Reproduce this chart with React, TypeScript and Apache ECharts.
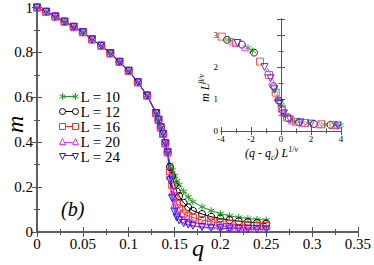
import React, { useEffect, useRef } from "react";
import * as echarts from "echarts";

// ---- data ----
const labels = ["L = 10", "L = 12", "L = 16", "L = 20", "L = 24"];
const colors = ["#1f9e1f", "#000000", "#ff2a2a", "#ff33ff", "#2020ff"];

// common part of main curve (q, m)
const commonQ = [0, 0.01, 0.02, 0.03, 0.04, 0.05, 0.06, 0.07, 0.08, 0.09, 0.1, 0.11, 0.12, 0.13, 0.1325, 0.135, 0.1375, 0.14, 0.1425];
const commonM = [1.0, 0.981, 0.96, 0.937, 0.914, 0.89, 0.858, 0.83, 0.796, 0.758, 0.718, 0.667, 0.608, 0.53, 0.5, 0.466, 0.437, 0.395, 0.355];

// diverging part
const tailQ = [0.145, 0.1475, 0.15, 0.1525, 0.155, 0.16, 0.165, 0.17, 0.18, 0.19, 0.2, 0.21, 0.22, 0.23, 0.24, 0.25];
const tailL10 = [0.3, 0.275, 0.25, 0.228, 0.21, 0.18, 0.155, 0.135, 0.112, 0.095, 0.082, 0.072, 0.065, 0.06, 0.056, 0.053];
const tailL12 = [0.29, 0.25, 0.21, 0.18, 0.16, 0.13, 0.11, 0.095, 0.08, 0.068, 0.06, 0.053, 0.048, 0.044, 0.041, 0.038];
const tailL16 = [0.27, 0.21, 0.16, 0.125, 0.105, 0.082, 0.072, 0.064, 0.053, 0.046, 0.04, 0.036, 0.033, 0.03, 0.028, 0.027];
const tailL20 = [0.25, 0.18, 0.125, 0.09, 0.072, 0.056, 0.047, 0.041, 0.034, 0.029, 0.026, 0.023, 0.021, 0.02, 0.019, 0.018];
const tailL24 = [0.23, 0.15, 0.09, 0.065, 0.052, 0.04, 0.033, 0.028, 0.022, 0.019, 0.017, 0.015, 0.014, 0.013, 0.012, 0.012];
const tails = [tailL10, tailL12, tailL16, tailL20, tailL24];

// inset (scaled x, scaled y)
const insetL10 = [[-3.5, 2.85], [-2.2, 2.6], [-1.9, 2.5], [-0.4, 1.25], [-0.2, 1.0], [0.0, 0.82], [0.3, 0.5], [0.9, 0.3], [1.8, 0.24], [2.9, 0.2], [3.6, 0.19], [3.95, 0.18]];
const insetL12 = [[-3.6, 2.85], [-2.6, 2.7], [-1.8, 2.45], [-0.5, 1.4], [-0.15, 0.95], [0.1, 0.65], [0.5, 0.4], [1.2, 0.27], [2.2, 0.22], [3.3, 0.19]];
const insetL16 = [[-3.95, 2.95], [-3.0, 2.75], [-1.4, 2.17], [-0.8, 1.75], [-0.35, 1.2], [0.05, 0.7], [0.4, 0.42], [1.0, 0.29], [1.6, 0.25], [2.7, 0.21], [3.5, 0.19]];
const insetL20 = [[-3.2, 2.8], [-2.4, 2.62], [-0.9, 1.85], [-0.6, 1.55], [-0.25, 1.05], [0.15, 0.58], [0.7, 0.33], [1.4, 0.26], [2.5, 0.21], [3.7, 0.18]];
const insetL24 = [[-2.9, 2.75], [-1.1, 2.0], [-0.7, 1.65], [-0.45, 1.3], [-0.1, 0.85], [0.2, 0.55], [0.6, 0.36], [1.3, 0.27], [2.0, 0.23], [3.8, 0.17]];
const insets = [insetL10, insetL12, insetL16, insetL20, insetL24];

const starPath = "path://M5,0L5,10M0.67,2.5L9.33,7.5M0.67,7.5L9.33,2.5";
const symbols = [starPath, "circle", "rect", "triangle", "path://M0,0L10,0L5,8.66Z"];
const legendIcons = [
  "path://M3.5,0V7M0.5,1.75L6.5,5.25M0.5,5.25L6.5,1.75M3.5,3.5H16.5M16.5,0V7M13.5,1.75L19.5,5.25M13.5,5.25L19.5,1.75",
  "path://M0.5,3.5a3,3 0 1,0 6,0a3,3 0 1,0 -6,0M6.5,3.5H13.5M13.5,3.5a3,3 0 1,0 6,0a3,3 0 1,0 -6,0",
  "path://M0.5,0.5h6v6h-6zM6.5,3.5H13.5M13.5,0.5h6v6h-6z",
  "path://M0.5,6.5L3.5,0.5L6.5,6.5ZM5,4.5H15M13.5,6.5L16.5,0.5L19.5,6.5Z",
  "path://M0.5,0.5L6.5,0.5L3.5,6.5ZM5,2.5H15M13.5,0.5L19.5,0.5L16.5,6.5Z",
];

const SERIF = "Liberation Serif";
const frame = "#555";

export default function App() {
  const ref = useRef<HTMLDivElement>(null);
  useEffect(() => {
    document.body.style.margin = "0";
    if (!ref.current) return;
    const chart = echarts.init(ref.current, undefined, { renderer: "svg" });

    const mainSeries = labels.map((name, i) => ({
      name,
      type: "line",
      xAxisIndex: 0,
      yAxisIndex: 0,
      data: commonQ.map((q, k) => [q, commonM[k]]).concat(tailQ.map((q, k) => [q, tails[i][k]])),
      symbol: symbols[i],
      symbolSize: 7,
      showAllSymbol: true,
      lineStyle: { color: colors[i], width: 1 },
      itemStyle: { color: i === 0 ? colors[i] : "rgba(0,0,0,0)", borderColor: colors[i], borderWidth: 1 },
      emphasis: { disabled: true },
    }));

    const insetSeries = labels.map((name, i) => ({
      name: name + " inset",
      type: "scatter",
      xAxisIndex: 2,
      yAxisIndex: 2,
      data: insets[i],
      symbol: symbols[i],
      symbolSize: 7,
      itemStyle: { color: i === 0 ? colors[i] : "rgba(0,0,0,0)", borderColor: colors[i], borderWidth: 1 },
      emphasis: { disabled: true },
    }));

    const axisBase = {
      axisLine: { show: true, lineStyle: { color: frame, width: 1.5 } },
      splitLine: { show: false },
    };
    const insetLine = { show: true, lineStyle: { color: frame, width: 1 } };
    const mainTick = { inside: true, length: 5, lineStyle: { color: frame } };
    const mainMinor = { show: true, splitNumber: 2, length: 3, lineStyle: { color: frame } };
    const inTick = { inside: true, length: 4, lineStyle: { color: frame } };
    const inMinor = { show: true, splitNumber: 2, length: 2.5, lineStyle: { color: frame } };
    const mainLabel = { color: "#000", fontFamily: SERIF, fontSize: 15, margin: 4 };
    const inLabel = { color: "#000", fontFamily: SERIF, fontSize: 9, margin: 3 };

    chart.setOption({
      animation: false,
      textStyle: { fontFamily: SERIF },
      grid: [
        { left: 37, right: 14, top: 5, bottom: 33 },
        { left: 221, top: 19, width: 120, height: 112 },
      ],
      xAxis: [
        {
          ...axisBase, gridIndex: 0, type: "value", min: 0, max: 0.35, interval: 0.05, position: "bottom",
          axisTick: mainTick, minorTick: mainMinor, axisLabel: mainLabel,
        },
        {
          ...axisBase, gridIndex: 0, type: "value", min: 0, max: 0.35, interval: 0.05, position: "top",
          axisTick: mainTick, minorTick: mainMinor, axisLabel: { show: false },
        },
        {
          ...axisBase, gridIndex: 1, type: "value", min: -4, max: 4, interval: 2, position: "bottom",
          axisLine: insetLine, axisTick: inTick, minorTick: inMinor, axisLabel: inLabel,
        },
        {
          ...axisBase, gridIndex: 1, type: "value", min: -4, max: 4, interval: 2, position: "top",
          axisLine: insetLine, axisTick: inTick, minorTick: inMinor, axisLabel: { show: false },
        },
      ],
      yAxis: [
        {
          ...axisBase, gridIndex: 0, type: "value", min: 0, max: 1, interval: 0.2, position: "left",
          axisTick: mainTick, minorTick: mainMinor, axisLabel: mainLabel,
        },
        {
          ...axisBase, gridIndex: 0, type: "value", min: 0, max: 1, interval: 0.2, position: "right",
          axisTick: mainTick, minorTick: mainMinor, axisLabel: { show: false },
        },
        {
          ...axisBase, gridIndex: 1, type: "value", min: 0, max: 3.5, interval: 1, position: "left",
          axisLine: insetLine, axisTick: inTick, minorTick: inMinor,
          axisLabel: { ...inLabel, showMaxLabel: false,
            formatter: (v: number) => (Number.isInteger(v) ? String(v) : "") },
        },
        {
          ...axisBase, gridIndex: 1, type: "value", min: 0, max: 3.5, interval: 1, position: "right",
          axisLine: insetLine, axisTick: inTick, minorTick: inMinor, axisLabel: { show: false },
        },
      ],
      legend: {
        data: labels.map((name, i) => ({
          name,
          icon: legendIcons[i],
          itemStyle: { color: i === 0 ? colors[i] : "rgba(0,0,0,0)", borderColor: colors[i], borderWidth: 1 },
        })),
        orient: "vertical",
        left: 54,
        top: 84,
        itemWidth: 19,
        itemHeight: 7,
        itemGap: 0,
        textStyle: { fontFamily: SERIF, fontSize: 15, lineHeight: 14, color: "#000", padding: [0, 0, 0, -3] },
        selectedMode: false,
      },
      graphic: [
        {
          type: "text", left: 192, top: 236,
          style: { text: "q", font: "italic 24px 'Liberation Serif'", fill: "#000" },
        },
        {
          type: "text", x: 3, y: 133, rotation: Math.PI / 2,
          style: { text: "m", font: "italic 24px 'Liberation Serif'", fill: "#000" },
        },
        {
          type: "text", left: 61, top: 199,
          style: { text: "(b)", font: "italic 20px 'Liberation Serif'", fill: "#000" },
        },
        {
          type: "text", left: 245, top: 145,
          style: {
            text: "{i|(q - q}{s|c}{i|) L}{u|1/ν}",
            rich: {
              i: { fontFamily: SERIF, fontStyle: "italic", fontSize: 12, fill: "#000" },
              s: { fontFamily: SERIF, fontStyle: "italic", fontSize: 8, fill: "#000", padding: [8, 0, 0, 0] },
              u: { fontFamily: SERIF, fontStyle: "italic", fontSize: 8, fill: "#000", padding: [0, 0, 8, 0] },
            },
          },
        },
        {
          type: "text", x: 197, y: 102, rotation: Math.PI / 2,
          style: {
            text: "{i|m L}{u|β/ν}",
            rich: {
              i: { fontFamily: SERIF, fontStyle: "italic", fontSize: 12, fill: "#000" },
              u: { fontFamily: SERIF, fontStyle: "italic", fontSize: 8, fill: "#000", padding: [0, 0, 8, 0] },
            },
          },
        },
      ],
      series: [...mainSeries, ...insetSeries],
    });
    return () => chart.dispose();
  }, []);
  return <div ref={ref} style={{ width: 374, height: 265 }} />;
}
